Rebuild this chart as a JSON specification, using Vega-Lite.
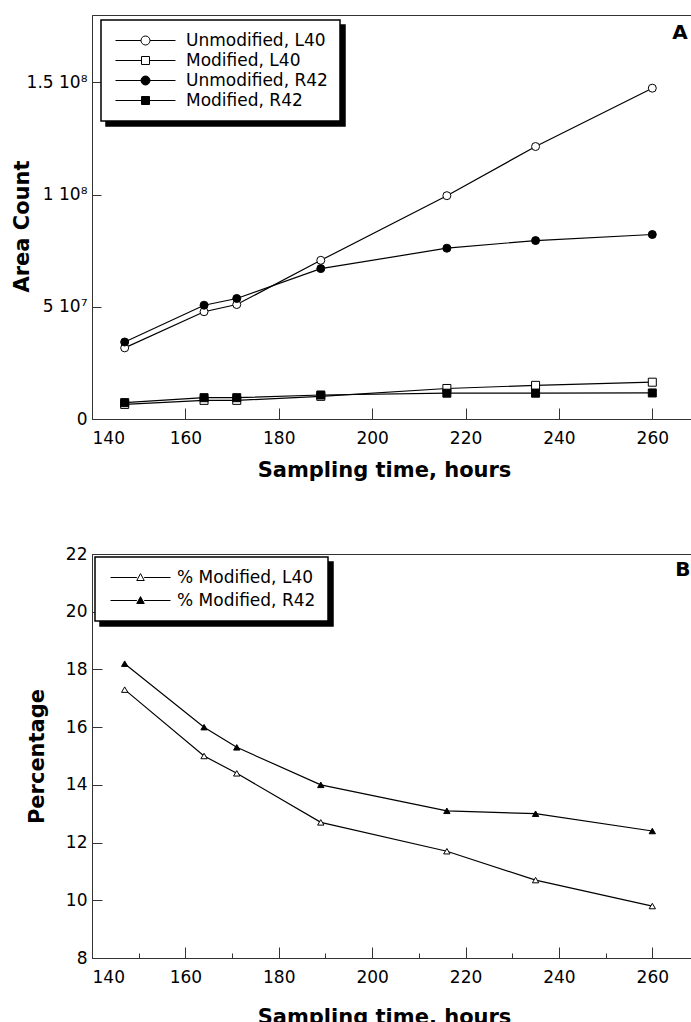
{
  "$schema": "https://vega.github.io/schema/vega-lite/v6.json",
  "padding": {"left": 10, "top": 14, "right": 0, "bottom": 0},
  "background": "white",
  "spacing": 63,
  "config": {
    "view": {"stroke": "#333", "strokeWidth": 1},
    "legend": {"strokeWidth": 1.5},
    "axis": {
      "grid": false,
      "domainColor": "#333",
      "tickColor": "#333",
      "labelFont": "DejaVu Sans",
      "labelFontSize": 17,
      "labelColor": "black",
      "titleFont": "DejaVu Sans",
      "titleFontSize": 21,
      "titleFontWeight": "bold",
      "titleColor": "black"
    }
  },
  "datasets": {
    "areas": [
      {"t": 147, "series": "Unmodified, L40", "count": 31700000},
      {"t": 164, "series": "Unmodified, L40", "count": 47800000},
      {"t": 171, "series": "Unmodified, L40", "count": 51000000},
      {"t": 189, "series": "Unmodified, L40", "count": 70700000},
      {"t": 216, "series": "Unmodified, L40", "count": 99500000},
      {"t": 235, "series": "Unmodified, L40", "count": 121400000},
      {"t": 260, "series": "Unmodified, L40", "count": 147400000},
      {"t": 147, "series": "Modified, L40", "count": 6500000},
      {"t": 164, "series": "Modified, L40", "count": 8300000},
      {"t": 171, "series": "Modified, L40", "count": 8300000},
      {"t": 189, "series": "Modified, L40", "count": 10100000},
      {"t": 216, "series": "Modified, L40", "count": 13600000},
      {"t": 235, "series": "Modified, L40", "count": 15000000},
      {"t": 260, "series": "Modified, L40", "count": 16400000},
      {"t": 147, "series": "Unmodified, R42", "count": 34300000},
      {"t": 164, "series": "Unmodified, R42", "count": 50700000},
      {"t": 171, "series": "Unmodified, R42", "count": 53700000},
      {"t": 189, "series": "Unmodified, R42", "count": 67000000},
      {"t": 216, "series": "Unmodified, R42", "count": 76100000},
      {"t": 235, "series": "Unmodified, R42", "count": 79500000},
      {"t": 260, "series": "Unmodified, R42", "count": 82200000},
      {"t": 147, "series": "Modified, R42", "count": 7300000},
      {"t": 164, "series": "Modified, R42", "count": 9500000},
      {"t": 171, "series": "Modified, R42", "count": 9500000},
      {"t": 189, "series": "Modified, R42", "count": 10700000},
      {"t": 216, "series": "Modified, R42", "count": 11500000},
      {"t": 235, "series": "Modified, R42", "count": 11500000},
      {"t": 260, "series": "Modified, R42", "count": 11600000}
    ],
    "pcts": [
      {"t": 147, "series": "% Modified, L40", "pct": 17.3},
      {"t": 164, "series": "% Modified, L40", "pct": 15.0},
      {"t": 171, "series": "% Modified, L40", "pct": 14.4},
      {"t": 189, "series": "% Modified, L40", "pct": 12.7},
      {"t": 216, "series": "% Modified, L40", "pct": 11.7},
      {"t": 235, "series": "% Modified, L40", "pct": 10.7},
      {"t": 260, "series": "% Modified, L40", "pct": 9.8},
      {"t": 147, "series": "% Modified, R42", "pct": 18.2},
      {"t": 164, "series": "% Modified, R42", "pct": 16.0},
      {"t": 171, "series": "% Modified, R42", "pct": 15.3},
      {"t": 189, "series": "% Modified, R42", "pct": 14.0},
      {"t": 216, "series": "% Modified, R42", "pct": 13.1},
      {"t": 235, "series": "% Modified, R42", "pct": 13.0},
      {"t": 260, "series": "% Modified, R42", "pct": 12.4}
    ]
  },
  "resolve": {"scale": {"shape": "independent", "fill": "independent", "strokeDash": "independent", "x": "independent", "y": "independent"}, "legend": {"shape": "independent", "fill": "independent", "strokeDash": "independent"}},
  "vconcat": [
    {
      "width": 607,
      "height": 404,
      "layer": [
        {
          "data": {"name": "areas"},
          "mark": {"type": "line", "color": "black", "strokeWidth": 1.2},
          "encoding": {
            "x": {"field": "t", "type": "quantitative", "scale": {"domain": [140, 270], "nice": false, "zero": false},
              "axis": {"values": [140, 160, 180, 200, 220, 240, 260], "tickSize": -11, "labelPadding": 22, "title": "Sampling time, hours", "titleX": 292, "titleY": 40, "titleBaseline": "top"}},
            "y": {"field": "count", "type": "quantitative", "scale": {"domain": [0, 180000000], "nice": false},
              "axis": {"values": [0, 50000000, 100000000, 150000000], "tickSize": -9, "labelPadding": 14,
                "labelExpr": "datum.value == 0 ? '0' : datum.value == 50000000 ? '5 10⁷' : datum.value == 100000000 ? '1 10⁸' : '1.5 10⁸'",
                "title": "Area Count", "titleX": -60, "titleY": 211}},
            "detail": {"field": "series"}
          }
        },
        {
          "data": {"name": "areas"},
          "transform": [{"filter": "indexof(datum.series, 'Unmodified') >= 0"}],
          "mark": {"type": "point", "filled": false, "shape": "circle", "stroke": "black", "strokeWidth": 1, "size": 64, "opacity": 1},
          "encoding": {
            "x": {"field": "t", "type": "quantitative"},
            "y": {"field": "count", "type": "quantitative"},
            "fill": {"field": "series", "type": "nominal",
              "scale": {"domain": ["Unmodified, L40", "Modified, L40", "Unmodified, R42", "Modified, R42"], "range": ["white", "white", "black", "black"]}}
          }
        },
        {
          "data": {"name": "areas"},
          "transform": [{"filter": "indexof(datum.series, 'Unmodified') < 0"}],
          "mark": {"type": "point", "filled": false, "shape": "square", "stroke": "black", "strokeWidth": 1, "size": 64, "opacity": 1},
          "encoding": {
            "x": {"field": "t", "type": "quantitative"},
            "y": {"field": "count", "type": "quantitative"},
            "fill": {"field": "series", "type": "nominal",
              "scale": {"domain": ["Unmodified, L40", "Modified, L40", "Unmodified, R42", "Modified, R42"], "range": ["white", "white", "black", "black"]}}
          }
        },
        {
          "data": {"name": "areas"},
          "transform": [{"filter": "datum.t < 0"}],
          "mark": {"type": "point", "filled": false, "stroke": "black", "strokeWidth": 1, "size": 36, "opacity": 1},
          "encoding": {
            "x": {"field": "t", "type": "quantitative"},
            "y": {"field": "count", "type": "quantitative"},
            "shape": {"field": "series", "type": "nominal",
              "scale": {"domain": ["Unmodified, L40", "Modified, L40", "Unmodified, R42", "Modified, R42"],
                "range": [
                  "M-10,0H-1.5M1.5,0H10M-1.5,0A1.5,1.5 0 1,0 1.5,0A1.5,1.5 0 1,0 -1.5,0Z",
                  "M-10,0H-1.33M1.33,0H10M-1.33,-1.33H1.33V1.33H-1.33Z",
                  "M-10,0H-1.5M1.5,0H10M-1.5,0A1.5,1.5 0 1,0 1.5,0A1.5,1.5 0 1,0 -1.5,0Z",
                  "M-10,0H-1.33M1.33,0H10M-1.33,-1.33H1.33V1.33H-1.33Z"
                ]},
              "legend": {"orient": "none", "legendX": 9, "legendY": 5, "title": null, "padding": 12, "strokeColor": "black", "fillColor": "white", "zindex": 1,
                "labelFontSize": 17, "labelFont": "DejaVu Sans", "labelColor": "black", "symbolSize": 36, "symbolStrokeWidth": 1, "symbolStrokeColor": "black",
                "symbolOffset": 24, "labelOffset": 32, "rowPadding": 2, "symbolOpacity": 1}},
            "fill": {"field": "series", "type": "nominal",
              "scale": {"domain": ["Unmodified, L40", "Modified, L40", "Unmodified, R42", "Modified, R42"], "range": ["white", "white", "black", "black"]},
              "legend": {"orient": "none", "legendX": 9, "legendY": 5, "title": null, "padding": 12, "strokeColor": "black", "fillColor": "white", "zindex": 1,
                "labelFontSize": 17, "labelFont": "DejaVu Sans", "labelColor": "black", "symbolSize": 36, "symbolStrokeWidth": 1, "symbolStrokeColor": "black",
                "symbolOffset": 24, "labelOffset": 32, "rowPadding": 2, "symbolOpacity": 1}}
          }
        },
        {
          "data": {"name": "areas"},
          "transform": [{"filter": "datum.t < 0"}],
          "mark": {"type": "line", "color": "black"},
          "encoding": {
            "x": {"field": "t", "type": "quantitative"},
            "y": {"field": "count", "type": "quantitative"},
            "strokeDash": {"field": "series", "type": "nominal",
              "scale": {"domain": ["Modified, R42", "Unmodified, R42", "Modified, L40", "Unmodified, L40"]},
              "legend": {"orient": "none", "legendX": 14, "legendY": 10, "title": null, "padding": 12, "strokeColor": "black", "fillColor": "black", "zindex": 0,
                "labelFontSize": 17, "labelFont": "DejaVu Sans", "labelColor": "black", "symbolType": "M-10,0H10", "symbolSize": 36, "symbolStrokeWidth": 1, "symbolStrokeColor": "black",
                "symbolOffset": 24, "labelOffset": 32, "rowPadding": 2}}
          }
        },
        {
          "data": {"values": [{"t": 267.6, "count": 171800000, "label": "A"}]},
          "mark": {"type": "text", "align": "right", "baseline": "middle", "font": "DejaVu Sans", "fontSize": 20, "fontWeight": "bold", "color": "black"},
          "encoding": {
            "x": {"field": "t", "type": "quantitative"},
            "y": {"field": "count", "type": "quantitative"},
            "text": {"field": "label"}
          }
        }
      ]
    },
    {
      "width": 607,
      "height": 404,
      "layer": [
        {
          "data": {"name": "pcts"},
          "mark": {"type": "line", "color": "black", "strokeWidth": 1.2},
          "encoding": {
            "x": {"field": "t", "type": "quantitative", "scale": {"domain": [140, 270], "nice": false, "zero": false},
              "axis": {"values": [140, 145, 150, 155, 160, 165, 170, 175, 180, 185, 190, 195, 200, 205, 210, 215, 220, 225, 230, 235, 240, 245, 250, 255, 260, 265],
                "tickSize": {"condition": {"test": "datum.value % 20 === 0", "value": -11}, "value": -5},
                "labelExpr": "datum.value % 20 === 0 ? datum.label : ''",
                "labelPadding": 22, "title": "Sampling time, hours", "titleX": 292, "titleY": 48, "titleBaseline": "top"}},
            "y": {"field": "pct", "type": "quantitative", "scale": {"domain": [8, 22], "nice": false, "zero": false},
              "axis": {"values": [8, 10, 12, 14, 16, 18, 20, 22], "tickSize": -10, "labelPadding": 15, "title": "Percentage", "titleX": -45}},
            "detail": {"field": "series"}
          }
        },
        {
          "data": {"name": "pcts"},
          "mark": {"type": "point", "filled": false, "shape": "triangle-up", "stroke": "black", "strokeWidth": 1, "size": 40, "opacity": 1},
          "encoding": {
            "x": {"field": "t", "type": "quantitative"},
            "y": {"field": "pct", "type": "quantitative"},
            "fill": {"field": "series", "type": "nominal",
              "scale": {"domain": ["% Modified, L40", "% Modified, R42"], "range": ["white", "black"]}}
          }
        },
        {
          "data": {"name": "pcts"},
          "transform": [{"filter": "datum.t < 0"}],
          "mark": {"type": "point", "filled": false, "stroke": "black", "strokeWidth": 1, "size": 36, "opacity": 1},
          "encoding": {
            "x": {"field": "t", "type": "quantitative"},
            "y": {"field": "pct", "type": "quantitative"},
            "shape": {"field": "series", "type": "nominal",
              "scale": {"domain": ["% Modified, L40", "% Modified, R42"],
                "range": ["M-10,0H-1.2M1.2,0H10M0,-1.3L1.25,1H-1.25Z", "M-10,0H-1.2M1.2,0H10M0,-1.3L1.25,1H-1.25Z"]},
              "legend": {"orient": "none", "legendX": 3, "legendY": 3, "title": null, "padding": 12, "strokeColor": "black", "fillColor": "white", "zindex": 1,
                "labelFontSize": 17, "labelFont": "DejaVu Sans", "labelColor": "black", "symbolSize": 36, "symbolStrokeWidth": 1, "symbolStrokeColor": "black",
                "symbolOffset": 25, "labelOffset": 28, "rowPadding": 5, "symbolOpacity": 1}},
            "fill": {"field": "series", "type": "nominal",
              "scale": {"domain": ["% Modified, L40", "% Modified, R42"], "range": ["white", "black"]},
              "legend": {"orient": "none", "legendX": 3, "legendY": 3, "title": null, "padding": 12, "strokeColor": "black", "fillColor": "white", "zindex": 1,
                "labelFontSize": 17, "labelFont": "DejaVu Sans", "labelColor": "black", "symbolSize": 36, "symbolStrokeWidth": 1, "symbolStrokeColor": "black",
                "symbolOffset": 25, "labelOffset": 28, "rowPadding": 5, "symbolOpacity": 1}}
          }
        },
        {
          "data": {"name": "pcts"},
          "transform": [{"filter": "datum.t < 0"}],
          "mark": {"type": "line", "color": "black"},
          "encoding": {
            "x": {"field": "t", "type": "quantitative"},
            "y": {"field": "pct", "type": "quantitative"},
            "strokeDash": {"field": "series", "type": "nominal",
              "scale": {"domain": ["% Modified, R42", "% Modified, L40"]},
              "legend": {"orient": "none", "legendX": 8, "legendY": 8, "title": null, "padding": 12, "strokeColor": "black", "fillColor": "black", "zindex": 0,
                "labelFontSize": 17, "labelFont": "DejaVu Sans", "labelColor": "black", "symbolType": "M-10,0H10", "symbolSize": 36, "symbolStrokeWidth": 1, "symbolStrokeColor": "black",
                "symbolOffset": 25, "labelOffset": 28, "rowPadding": 5}}
          }
        },
        {
          "data": {"values": [{"t": 268.2, "pct": 21.44, "label": "B"}]},
          "mark": {"type": "text", "align": "right", "baseline": "middle", "font": "DejaVu Sans", "fontSize": 20, "fontWeight": "bold", "color": "black"},
          "encoding": {
            "x": {"field": "t", "type": "quantitative"},
            "y": {"field": "pct", "type": "quantitative"},
            "text": {"field": "label"}
          }
        }
      ]
    }
  ]
}
